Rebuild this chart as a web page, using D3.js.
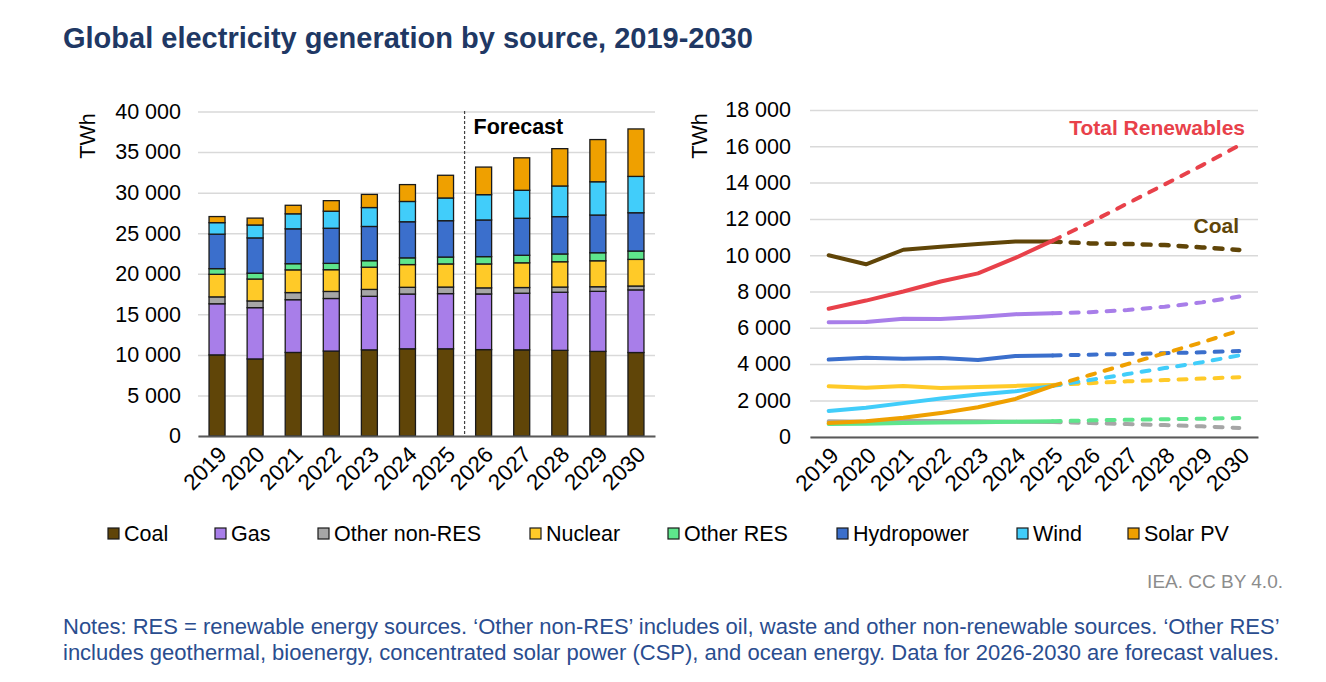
<!DOCTYPE html>
<html>
<head>
<meta charset="utf-8">
<script src="https://cdn.jsdelivr.net/npm/d3@7"></script>
<style>
  body { margin: 0; background: #fff; }
  text { font-family: "Liberation Sans", Arial, sans-serif; }
</style>
</head>
<body>
<div id="chart-area"></div>
<script>
// data, TWh
var years = ["2019", "2020", "2021", "2022", "2023", "2024", "2025", "2026", "2027", "2028", "2029", "2030"]
var coal = [10000, 9500, 10300, 10470, 10620, 10750, 10750, 10650, 10620, 10560, 10430, 10290]
var gas = [6300, 6320, 6500, 6480, 6600, 6750, 6800, 6860, 6980, 7160, 7400, 7720]
var otherNonRes = [850, 830, 880, 870, 850, 830, 810, 750, 700, 640, 570, 480]
var nuclear = [2780, 2700, 2800, 2680, 2740, 2800, 2850, 2950, 3050, 3120, 3200, 3280]
var otherRes = [700, 720, 760, 780, 800, 830, 850, 900, 930, 960, 990, 1030]
var hydro = [4250, 4350, 4300, 4330, 4220, 4450, 4480, 4520, 4560, 4600, 4650, 4720]
var wind = [1420, 1590, 1850, 2100, 2330, 2500, 2800, 3120, 3450, 3780, 4100, 4480]
var solar = [750, 850, 1050, 1300, 1620, 2080, 2800, 3400, 4000, 4600, 5200, 5850]
var totalRenewables = [7050, 7500, 8000, 8550, 9000, 9850, 10800, 11800, 12850, 13900, 14950, 16050]

var barTicks = [0, 5000, 10000, 15000, 20000, 25000, 30000, 35000, 40000]
var lineTicks = [0, 2000, 4000, 6000, 8000, 10000, 12000, 14000, 16000, 18000]
var lastActual = "2025"

var series = [
  { key: "Coal", values: coal, color: "#604508" },
  { key: "Gas", values: gas, color: "#a87ee9" },
  { key: "Other non-RES", values: otherNonRes, color: "#a6a6a6" },
  { key: "Nuclear", values: nuclear, color: "#ffca28" },
  { key: "Other RES", values: otherRes, color: "#5ee58c" },
  { key: "Hydropower", values: hydro, color: "#3b6fcc" },
  { key: "Wind", values: wind, color: "#41cdfa" },
  { key: "Solar PV", values: solar, color: "#efa000" }
]
var totalColor = "#e8414a"

var fmt = function(d){ return d3.format(",")(d).replace(/,/g, " ") }

var svg = d3.select("#chart-area")
  .append("svg")
    .attr("width", 1326)
    .attr("height", 682)

// title
svg.append("text")
  .attr("x", 63)
  .attr("y", 48)
  .attr("font-size", "29px")
  .attr("font-weight", "bold")
  .attr("fill", "#203864")
  .text("Global electricity generation by source, 2019-2030")

// ---------- left: stacked bars ----------
var table = years.map(function(y, i){
  var row = { year: y }
  series.forEach(function(s){ row[s.key] = s.values[i] })
  return row
})
var stacked = d3.stack().keys(series.map(function(s){ return s.key }))(table)

var x1 = d3.scaleBand()
  .domain(years)
  .range([198, 655])
  .paddingInner(0.58)
  .paddingOuter(0.29)
var y1 = d3.scaleLinear()
  .domain([0, 40000])
  .range([436, 111.5])

var left = svg.append("g")

left.append("g")
  .attr("transform", "translate(198,0)")
  .call(d3.axisLeft(y1).tickValues(barTicks).tickSize(-457).tickFormat(""))
  .call(function(g){ g.select(".domain").remove() })
  .selectAll("line").attr("stroke", "#d9d9d9").attr("stroke-width", 1.5)

left.append("g")
  .attr("transform", "translate(181,0)")
  .call(d3.axisLeft(y1).tickValues(barTicks).tickSize(0).tickFormat(fmt))
  .call(function(g){ g.select(".domain").remove() })
  .selectAll("text")
    .attr("font-size", "21.5px")
    .attr("fill", "#000")
    .attr("x", 0)

left.append("text")
  .attr("transform", "rotate(-90)")
  .attr("x", -136)
  .attr("y", 95)
  .attr("text-anchor", "middle")
  .attr("font-size", "21.5px")
  .text("TWh")

// bars
left.selectAll("g.layer")
  .data(stacked)
  .enter()
  .append("g")
    .attr("class", "layer")
    .attr("fill", function(d, i){ return series[i].color })
  .selectAll("rect")
  .data(function(d){ return d })
  .enter()
  .append("rect")
    .attr("x", function(d){ return x1(d.data.year) })
    .attr("width", x1.bandwidth())
    .attr("y", function(d){ return y1(d[1]) })
    .attr("height", function(d){ return y1(d[0]) - y1(d[1]) })
    .attr("stroke", "#1a1a1a")
    .attr("stroke-width", 1.3)

// x axis
var xAxis1 = left.append("g")
  .attr("transform", "translate(0,436)")
  .call(d3.axisBottom(x1).tickSize(0))
xAxis1.select(".domain").attr("stroke", "#595959").attr("stroke-width", 2)
xAxis1.selectAll("text")
  .attr("font-size", "22.5px")
  .attr("fill", "#000")
  .attr("text-anchor", "end")
  .attr("dy", 0)
  .attr("y", 0)
  .attr("transform", "translate(11,20) rotate(-45)")

// forecast divider
var splitX = (x1("2025") + x1("2026") + x1.bandwidth()) / 2
left.append("line")
  .attr("x1", splitX).attr("x2", splitX)
  .attr("y1", 111).attr("y2", 436)
  .attr("stroke", "#404040")
  .attr("stroke-width", 1.2)
  .attr("stroke-dasharray", "3,2")
left.append("text")
  .attr("x", splitX + 9)
  .attr("y", 134)
  .attr("font-size", "21.5px")
  .attr("font-weight", "bold")
  .text("Forecast")

// ---------- right: lines ----------
var x2 = d3.scalePoint()
  .domain(years)
  .range([810, 1258])
  .padding(0.5)
var y2 = d3.scaleLinear()
  .domain([0, 18000])
  .range([436.7, 110])

var right = svg.append("g")

right.append("g")
  .attr("transform", "translate(810,0)")
  .call(d3.axisLeft(y2).tickValues(lineTicks).tickSize(-448).tickFormat(""))
  .call(function(g){ g.select(".domain").remove() })
  .selectAll("line").attr("stroke", "#d9d9d9").attr("stroke-width", 1.5)

right.append("g")
  .attr("transform", "translate(791,0)")
  .call(d3.axisLeft(y2).tickValues(lineTicks).tickSize(0).tickFormat(fmt))
  .call(function(g){ g.select(".domain").remove() })
  .selectAll("text")
    .attr("font-size", "21.5px")
    .attr("fill", "#000")
    .attr("x", 0)

right.append("text")
  .attr("transform", "rotate(-90)")
  .attr("x", -136)
  .attr("y", 707)
  .attr("text-anchor", "middle")
  .attr("font-size", "21.5px")
  .text("TWh")

var split = years.indexOf(lastActual)
var line = d3.line()
  .x(function(d){ return x2(d.year) })
  .y(function(d){ return y2(d.v) })

var lineSeries = series.slice()
lineSeries.push({ key: "Total Renewables", values: totalRenewables, color: totalColor })

lineSeries.forEach(function(s){
  var pts = years.map(function(y, i){ return { year: y, v: s.values[i] } })
  right.append("path")
    .datum(pts.slice(0, split + 1))
    .attr("d", line)
    .attr("fill", "none")
    .attr("stroke", s.color)
    .attr("stroke-width", 4)
    .attr("stroke-linecap", "round")
    .attr("stroke-linejoin", "round")
  right.append("path")
    .datum(pts.slice(split))
    .attr("d", line)
    .attr("fill", "none")
    .attr("stroke", s.color)
    .attr("stroke-width", s.key == "Coal" ? 4.5 : 4)
    .attr("stroke-linecap", "round")
    .attr("stroke-dasharray", "8,10")
})

var xAxis2 = right.append("g")
  .attr("transform", "translate(0,437)")
  .call(d3.axisBottom(x2).tickSize(0))
xAxis2.select(".domain").attr("stroke", "#595959").attr("stroke-width", 2)
xAxis2.selectAll("text")
  .attr("font-size", "22.5px")
  .attr("fill", "#000")
  .attr("text-anchor", "end")
  .attr("dy", 0)
  .attr("y", 0)
  .attr("transform", "translate(11,20) rotate(-45)")

right.append("text")
  .attr("x", 1245)
  .attr("y", 135)
  .attr("text-anchor", "end")
  .attr("font-size", "21px")
  .attr("font-weight", "bold")
  .attr("fill", totalColor)
  .text("Total Renewables")
right.append("text")
  .attr("x", 1239)
  .attr("y", 233)
  .attr("text-anchor", "end")
  .attr("font-size", "21px")
  .attr("font-weight", "bold")
  .attr("fill", "#604508")
  .text("Coal")

// ---------- legend ----------
var legendX = [108, 215, 318, 530, 668, 837, 1017, 1128]
var legend = svg.append("g")
  .selectAll("g")
  .data(series)
  .enter()
  .append("g")
    .attr("transform", function(d, i){ return "translate(" + legendX[i] + ",528)" })
legend.append("rect")
  .attr("width", 11).attr("height", 11)
  .attr("fill", function(d){ return d.color })
  .attr("stroke", "#1a1a1a")
  .attr("stroke-width", 1.2)
legend.append("text")
  .attr("x", 16)
  .attr("y", 13)
  .attr("font-size", "21.5px")
  .text(function(d){ return d.key })

// source + notes
svg.append("text")
  .attr("x", 1283)
  .attr("y", 588)
  .attr("text-anchor", "end")
  .attr("font-size", "19px")
  .attr("fill", "#8c8c8c")
  .text("IEA. CC BY 4.0.")

var notes = [
  "Notes: RES = renewable energy sources. \u2018Other non-RES\u2019 includes oil, waste and other non-renewable sources. \u2018Other RES\u2019",
  "includes geothermal, bioenergy, concentrated solar power (CSP), and ocean energy. Data for 2026-2030 are forecast values."
]
svg.selectAll("text.note")
  .data(notes)
  .enter()
  .append("text")
    .attr("class", "note")
    .attr("x", 63)
    .attr("y", function(d, i){ return 634 + i * 26 })
    .attr("font-size", "22px")
    .attr("fill", "#2a4d8f")
    .text(function(d){ return d })
</script>
</body>
</html>
